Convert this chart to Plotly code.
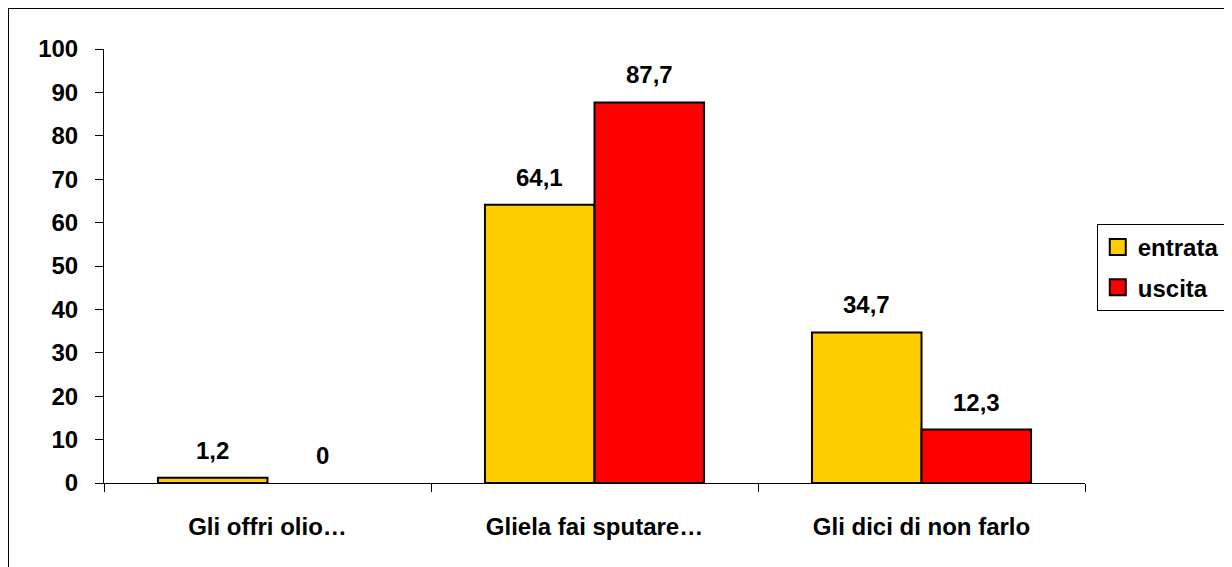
import plotly.graph_objects as go

categories = ["Gli offri olio…", "Gliela fai sputare…", "Gli dici di non farlo"]
entrata = [1.2, 64.1, 34.7]
uscita = [0, 87.7, 12.3]
series_names = ["entrata", "uscita"]
series_colors = ["#FFCC00", "#FF0000"]
y_ticks = list(range(0, 101, 10))

def fmt(v):
    return ("%g" % v).replace(".", ",")

FONT = "Liberation Sans, Arial, sans-serif"
FS = 24

fig = go.Figure()
for name, vals, col in zip(series_names, (entrata, uscita), series_colors):
    fig.add_trace(go.Bar(
        name=name, x=categories, y=vals, showlegend=False,
        marker=dict(color=col,
                    line=dict(color="black", width=[2 if v > 0 else 0 for v in vals])),
    ))
    # legend entry (square swatch with black border)
    fig.add_trace(go.Scatter(
        name=name, x=[None], y=[None], mode="markers", legendgroup=name,
        marker=dict(symbol="square", size=16, color=col,
                    line=dict(color="black", width=2)),
    ))

# data labels
for vals, shift in ((entrata, -55), (uscita, 55)):
    for c, v in zip(categories, vals):
        fig.add_annotation(
            x=c, y=v, xref="x", yref="y", text=fmt(v), showarrow=False,
            xshift=shift, yshift=12, yanchor="bottom",
            font=dict(family=FONT, size=FS, color="black", weight="bold"),
        )

fig.update_layout(
    width=1232, height=567,
    margin=dict(l=96, r=155, t=41, b=92),
    paper_bgcolor="white", plot_bgcolor="white",
    barmode="group", bargap=0.33, bargroupgap=0,
    font=dict(family=FONT, size=FS, color="black"),
    showlegend=True,
    legend=dict(
        x=1.012, y=0.597, xanchor="left", yanchor="top",
        bordercolor="black", borderwidth=1,
        font=dict(family=FONT, size=FS, color="black", weight="bold"),
        itemwidth=30, tracegroupgap=6, traceorder="grouped",
    ),
)
fig.update_yaxes(
    range=[0, 100], tickvals=y_ticks, ticktext=[str(t) for t in y_ticks],
    showline=True, linecolor="black", linewidth=1,
    ticks="outside", ticklen=8, tickcolor="black",
    showgrid=False, zeroline=False, ticklabelstandoff=12,
    tickfont=dict(family=FONT, size=FS, color="black", weight="bold"),
)
fig.update_xaxes(
    showline=True, linecolor="black", linewidth=1,
    ticks="outside", ticklen=8, tickcolor="black", tickson="boundaries",
    showgrid=False,
    tickfont=dict(family=FONT, size=FS, color="black", weight="bold"),
    ticklabelstandoff=22,
)
fig.add_shape(type="rect", xref="paper", yref="paper",
              x0=-96/981, x1=1.3, y0=-0.4, y1=1 + 41/434,
              line=dict(color="black", width=2), fillcolor="rgba(0,0,0,0)",
              layer="below")

fig.write_html("out.html")
